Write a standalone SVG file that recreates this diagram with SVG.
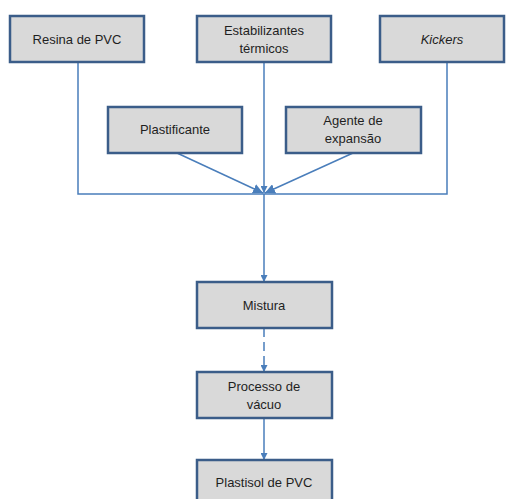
<svg xmlns="http://www.w3.org/2000/svg" width="506" height="499" viewBox="0 0 506 499">
  <style>
    .box { fill: #d9d9d9; stroke: #3b5d89; stroke-width: 2.5; }
    .lbl { font-family: "Liberation Sans", Arial, sans-serif; font-size: 13px; fill: #1f1f1f; text-anchor: middle; }
    .it { font-style: italic; }
    .ln { fill: none; stroke: #4a7ebb; stroke-width: 1.5; }
    .dash { stroke-dasharray: 9 5; }
  </style>
  <defs>
    <marker id="arr" viewBox="0 0 10 10" refX="10" refY="5" markerWidth="7" markerHeight="7" markerUnits="userSpaceOnUse" orient="auto">
      <path d="M0,0 L10,5 L0,10 z" fill="#4a7ebb"/>
    </marker>
    <marker id="arrL" viewBox="0 0 10 10" refX="10" refY="5" markerWidth="10" markerHeight="10" markerUnits="userSpaceOnUse" orient="auto">
      <path d="M0,0 L10,5 L0,10 z" fill="#4a7ebb"/>
    </marker>
  </defs>

  <g id="connectors">
    <!-- side inputs joined by the collector bar -->
    <polyline class="ln" points="78,62 78,194 447,194 447,62"/>
    <!-- centre input -->
    <line class="ln" x1="264" y1="62" x2="264" y2="193" marker-end="url(#arr)"/>
    <line class="ln" x1="177" y1="153" x2="263" y2="193" marker-end="url(#arrL)"/>
    <line class="ln" x1="353" y1="153" x2="265" y2="193" marker-end="url(#arrL)"/>
    <!-- main flow -->
    <line class="ln" x1="264" y1="194" x2="264" y2="282" marker-end="url(#arr)"/>
    <line class="ln dash" x1="264" y1="328" x2="264" y2="372" marker-end="url(#arr)"/>
    <line class="ln" x1="264" y1="418" x2="264" y2="460" marker-end="url(#arr)"/>
  </g>

  <g id="resina">
    <rect class="box" x="10" y="16" width="134" height="46"/>
    <text class="lbl" x="77" y="44">Resina de PVC</text>
  </g>
  <g id="estabilizantes">
    <rect class="box" x="197" y="16" width="134" height="46"/>
    <text class="lbl" x="264" y="35">Estabilizantes</text>
    <text class="lbl" x="264" y="53">térmicos</text>
  </g>
  <g id="kickers">
    <rect class="box" x="380" y="16" width="124" height="46"/>
    <text class="lbl it" x="442" y="44">Kickers</text>
  </g>
  <g id="plastificante">
    <rect class="box" x="108" y="107" width="134" height="46"/>
    <text class="lbl" x="175" y="134">Plastificante</text>
  </g>
  <g id="agente">
    <rect class="box" x="286" y="107" width="135" height="46"/>
    <text class="lbl" x="353" y="125">Agente de</text>
    <text class="lbl" x="353" y="143">expansão</text>
  </g>
  <g id="mistura">
    <rect class="box" x="197" y="282" width="135" height="46"/>
    <text class="lbl" x="264" y="310">Mistura</text>
  </g>
  <g id="processo">
    <rect class="box" x="197" y="372" width="135" height="46"/>
    <text class="lbl" x="264" y="391">Processo de</text>
    <text class="lbl" x="264" y="409">vácuo</text>
  </g>
  <g id="plastisol">
    <rect class="box" x="197" y="460" width="135" height="46"/>
    <text class="lbl" x="264" y="487">Plastisol de PVC</text>
  </g>
</svg>
